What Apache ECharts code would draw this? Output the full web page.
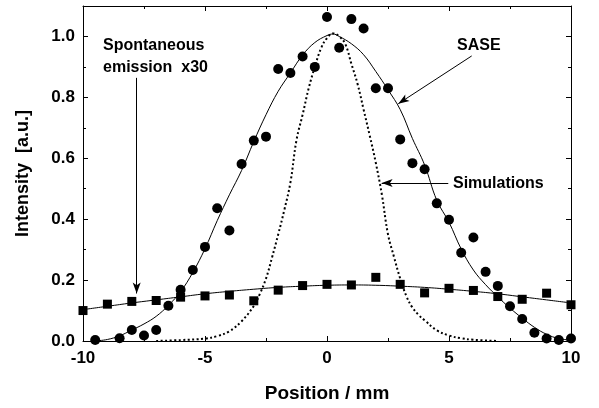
<!DOCTYPE html>
<html>
<head>
<meta charset="utf-8">
<script src="https://cdn.jsdelivr.net/npm/echarts@6/dist/echarts.min.js"></script>
<style>html,body{margin:0;padding:0;background:#fff}#c{width:599px;height:408px}</style>
</head>
<body>
<div id="c"></div>
<script>
// Measured SASE intensity (circles)
const saseX = [-9.5,-8.5,-8,-7.5,-7,-6.5,-6,-5.5,-5,-4.5,-4,-3.5,-3,-2.5,-2,-1.5,-1,-0.5,0,0.5,1,1.5,2,2.5,3,3.5,4,4.5,5,5.5,6,6.5,7,7.5,8,8.5,9,9.5,10];
const saseY = [0.003,0.009,0.036,0.018,0.036,0.116,0.168,0.233,0.309,0.436,0.363,0.581,0.658,0.671,0.893,0.88,0.934,0.90,1.064,0.963,1.057,1.026,0.830,0.830,0.662,0.584,0.564,0.452,0.398,0.29,0.34,0.227,0.181,0.114,0.072,0.027,0.008,0.003,0.008];
// Spontaneous emission x30 (squares)
const spontX = [-10,-9,-8,-7,-6,-5,-4,-3,-2,-1,0,1,2,3,4,5,6,7,8,9,10];
const spontY = [0.10,0.121,0.130,0.133,0.144,0.148,0.151,0.132,0.167,0.182,0.186,0.184,0.209,0.186,0.158,0.173,0.166,0.146,0.137,0.157,0.119];
// Fit curve through SASE points (solid)
const saseFitX = [-9.5,-9,-8.5,-8,-7.5,-7,-6.5,-6,-5.5,-5,-4.5,-4,-3.5,-3,-2.5,-2,-1.5,-1,-0.5,0,0.25,0.5,1,1.5,2,2.5,3,3.5,4,4.5,5,5.5,6,6.5,7,7.5,8,8.5,9,9.5,10];
const saseFitY = [0.0,0.005,0.017,0.036,0.056,0.081,0.117,0.162,0.225,0.303,0.395,0.48,0.56,0.655,0.743,0.82,0.88,0.939,0.98,1.003,1.008,1.0,0.976,0.94,0.885,0.825,0.76,0.665,0.578,0.462,0.39,0.302,0.233,0.185,0.145,0.108,0.075,0.045,0.022,0.008,0.003];
// Fit curve through spontaneous emission (solid)
const spontFitX = [-10,-9,-8,-7,-6,-5,-4,-3,-2,-1,0,1,2,3,4,5,6,7,8,9,10];
const spontFitY = [0.103,0.114,0.125,0.135,0.145,0.155,0.163,0.170,0.176,0.180,0.183,0.184,0.183,0.180,0.176,0.170,0.163,0.155,0.145,0.135,0.125];
// Simulation (dotted)
const simX = [-7,-6,-5,-4.5,-4,-3.5,-3,-2.75,-2.5,-2.25,-2,-1.75,-1.5,-1.25,-1,-0.75,-0.5,-0.25,0,0.25,0.5,0.75,1,1.25,1.5,1.75,2,2.25,2.5,2.75,3,3.25,3.5,3.75,4,4.5,5,5.5,6,7];
const simY = [0.0,0.003,0.008,0.016,0.032,0.065,0.115,0.155,0.205,0.275,0.35,0.43,0.52,0.66,0.743,0.83,0.90,0.96,0.995,1.01,1.0,0.975,0.91,0.845,0.76,0.675,0.585,0.48,0.35,0.275,0.205,0.148,0.11,0.086,0.068,0.035,0.018,0.009,0.004,0.0];
// Axis ticks
const xTicks = [-10,-5,0,5,10];
const yTicks = [0.0,0.2,0.4,0.6,0.8,1.0];

const zip = (a,b) => a.map((v,i)=>[v,b[i]]);
const FONT = '"Liberation Sans", Arial, Helvetica, sans-serif';
const chart = echarts.init(document.getElementById('c'), null, {renderer:'canvas'});

const baseX = {
  type:'value', min:-10, max:10, interval:5,
  axisLine:{show:true, onZero:false, lineStyle:{color:'#000', width:1}},
  axisTick:{show:true, inside:true, length:5, lineStyle:{color:'#000'}},
  minorTick:{show:true, splitNumber:2, length:3, lineStyle:{color:'#000'}},
  splitLine:{show:false}
};
const baseY = {
  type:'value', min:0, max:1.1, interval:0.2,
  axisLine:{show:true, onZero:false, lineStyle:{color:'#000', width:1}},
  axisTick:{show:true, inside:true, length:5, lineStyle:{color:'#000'}},
  minorTick:{show:true, splitNumber:2, length:3, lineStyle:{color:'#000'}},
  splitLine:{show:false}
};
const arrowLine = (a,b) => [{coord:a},{coord:b}];

chart.setOption({
  animation:false,
  backgroundColor:'#fff',
  grid:{left:83, right:28, top:6, bottom:63},
  xAxis:[
    Object.assign({}, baseX, {
      position:'bottom',
      name:'Position / mm', nameLocation:'middle', nameGap:43,
      nameTextStyle:{fontFamily:FONT, fontWeight:'bold', fontSize:19, color:'#000'},
      axisLabel:{show:true, margin:9, fontFamily:FONT, fontWeight:'bold', fontSize:17, color:'#000',
        formatter:v => xTicks.some(t=>Math.abs(t-v)<1e-6) ? String(v) : ''}
    }),
    Object.assign({}, baseX, {position:'top', axisLabel:{show:false}})
  ],
  yAxis:[
    Object.assign({}, baseY, {
      position:'left',
      name:'Intensity  [a.u.]', nameLocation:'middle', nameGap:51,
      nameTextStyle:{fontFamily:FONT, fontWeight:'bold', fontSize:18, color:'#000'},
      axisLabel:{show:true, margin:8, fontFamily:FONT, fontWeight:'bold', fontSize:17, color:'#000',
        formatter:v => yTicks.some(t=>Math.abs(t-v)<1e-6) ? v.toFixed(1) : ''}
    }),
    Object.assign({}, baseY, {position:'right', axisLabel:{show:false}})
  ],
  series:[
    {type:'line', data:zip(spontFitX, spontFitY), smooth:true, symbol:'none',
     lineStyle:{color:'#000', width:1}, silent:true, z:2},
    {type:'line', data:zip(saseFitX, saseFitY), smooth:0.4, symbol:'none',
     lineStyle:{color:'#000', width:1}, silent:true, z:2},
    {type:'line', data:zip(simX, simY), smooth:0.4, symbol:'none',
     lineStyle:{color:'#000', width:2, type:[2,2.5]}, silent:true, z:2},
    {type:'scatter', data:zip(spontX, spontY), symbol:'rect', symbolSize:9,
     itemStyle:{color:'#000', opacity:1}, silent:true, z:3},
    {type:'scatter', data:zip(saseX, saseY), symbol:'circle', symbolSize:10,
     itemStyle:{color:'#000', opacity:1}, silent:true, z:3,
     markLine:{silent:true, symbol:['none','arrow'], symbolSize:[6,11],
       label:{show:false}, lineStyle:{color:'#000', width:1, type:'solid'},
       emphasis:{disabled:true},
       data:[
         arrowLine([-7.8,0.864],[-7.8,0.156]),
         arrowLine([5.93,0.936],[2.92,0.779]),
         arrowLine([4.97,0.519],[2.24,0.519])
       ]}
    }
  ],
  graphic:[
    {type:'text', x:103, y:46, style:{text:'Spontaneous', font:'bold 16px '+FONT, fill:'#000', verticalAlign:'middle'}},
    {type:'text', x:103, y:68, style:{text:'emission  x30', font:'bold 16px '+FONT, fill:'#000', verticalAlign:'middle'}},
    {type:'text', x:457, y:46, style:{text:'SASE', font:'bold 16px '+FONT, fill:'#000', verticalAlign:'middle'}},
    {type:'text', x:453, y:184, style:{text:'Simulations', font:'bold 16px '+FONT, fill:'#000', verticalAlign:'middle'}}
  ]
});
</script>
</body>
</html>
